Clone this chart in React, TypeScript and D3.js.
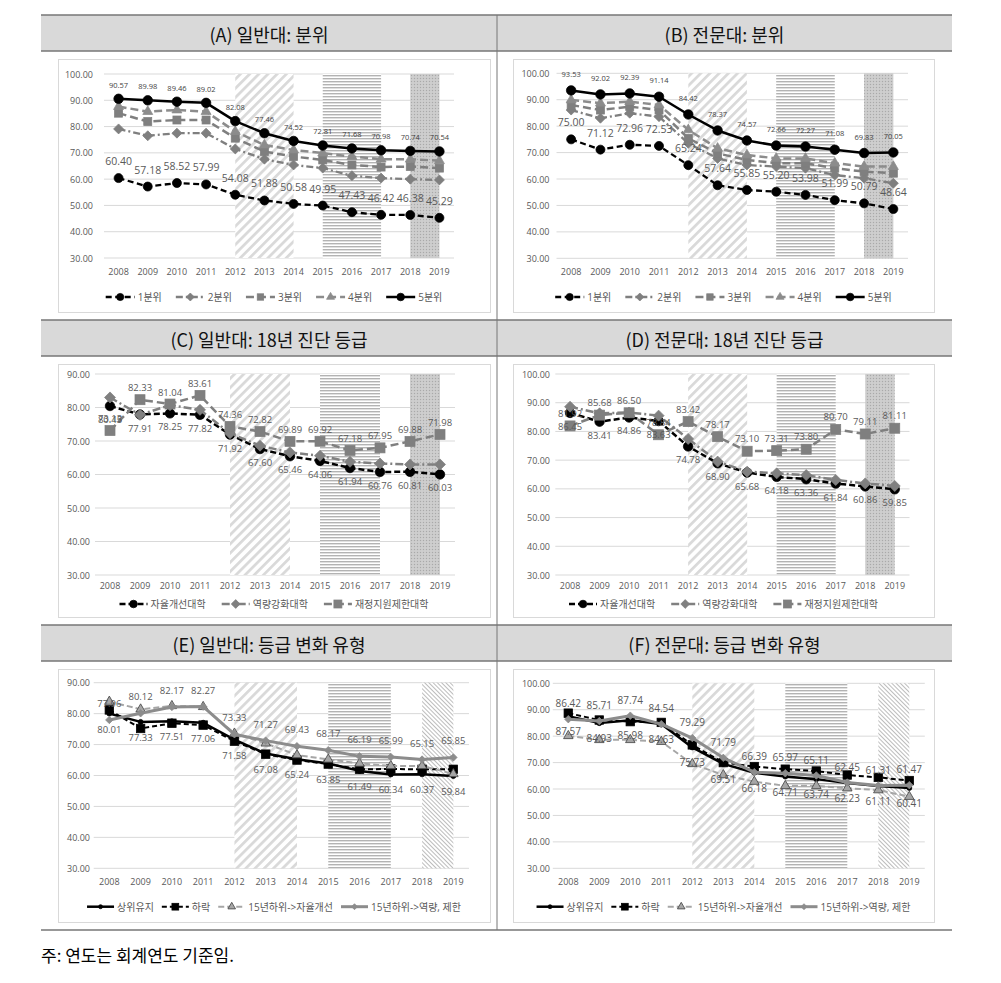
import React from 'react';
import * as d3 from 'd3';

const years = ['2008', '2009', '2010', '2011', '2012', '2013', '2014', '2015', '2016', '2017', '2018', '2019'];
const ticks100 = [30, 40, 50, 60, 70, 80, 90, 100];
const ticks90 = [30, 40, 50, 60, 70, 80, 90];

const titles = [
  '(A) 일반대: 분위',
  '(B) 전문대: 분위',
  '(C) 일반대: 18년 진단 등급',
  '(D) 전문대: 18년 진단 등급',
  '(E) 일반대: 등급 변화 유형',
  '(F) 전문대: 등급 변화 유형',
];
const note = '주: 연도는 회계연도 기준임.';

const quintileNames = ['1분위', '2분위', '3분위', '4분위', '5분위'];
const gradeNames = ['자율개선대학', '역량강화대학', '재정지원제한대학'];
const changeNames = ['상위유지', '하락', '15년하위->자율개선', '15년하위->역량, 제한'];

// shaded periods
const regionSpans: [string, string][] = [['2012', '2014'], ['2015', '2017'], ['2018', '2019']];

// (A) 일반대 분위
const aQ1 = [60.40, 57.18, 58.52, 57.99, 54.08, 51.88, 50.58, 49.95, 47.43, 46.42, 46.38, 45.29];
const aQ2 = [79.1, 76.5, 77.5, 77.5, 71.5, 67.6, 65.4, 64.2, 61.3, 60.4, 60.0, 59.7];
const aQ3 = [85.1, 81.9, 82.5, 82.5, 75.6, 70.5, 68.6, 67.3, 65.4, 64.6, 64.8, 64.2];
const aQ4 = [87.6, 85.7, 86.3, 85.7, 78.1, 73.0, 71.1, 69.9, 68.6, 67.6, 67.6, 67.0];
const aQ5 = [90.57, 89.98, 89.46, 89.02, 82.08, 77.46, 74.52, 72.81, 71.68, 70.98, 70.74, 70.54];

// (B) 전문대 분위
const bQ1 = [75.00, 71.12, 72.96, 72.53, 65.24, 57.64, 55.85, 55.20, 53.98, 51.99, 50.79, 48.64];
const bQ2 = [86.1, 83.0, 84.9, 83.6, 73.5, 67.8, 65.3, 64.7, 64.1, 61.5, 60.3, 58.4];
const bQ3 = [88.0, 86.1, 87.4, 86.1, 75.4, 69.7, 67.2, 66.0, 66.0, 64.1, 62.8, 62.2];
const bQ4 = [89.9, 88.7, 89.3, 88.0, 78.6, 71.6, 69.1, 67.8, 67.8, 66.0, 64.7, 64.7];
const bQ5 = [93.53, 92.02, 92.39, 91.14, 84.42, 78.37, 74.57, 72.66, 72.27, 71.08, 69.83, 70.05];

// (C) 일반대 18년 진단 등급
const cAuto = [80.45, 77.91, 78.25, 77.82, 71.92, 67.60, 65.46, 64.06, 61.94, 60.76, 60.81, 60.03];
const cCap = [83.0, 77.8, 80.7, 79.3, 72.3, 68.6, 66.6, 65.6, 63.8, 63.3, 63.0, 63.0];
const cLimit = [73.13, 82.33, 81.04, 83.61, 74.36, 72.82, 69.89, 69.92, 67.18, 67.95, 69.88, 71.98];

// (D) 전문대 18년 진단 등급
const dAuto = [86.45, 83.41, 84.86, 83.63, 74.78, 68.90, 65.68, 64.18, 63.36, 61.84, 60.86, 59.85];
const dCap = [88.6, 86.3, 86.6, 85.5, 77.4, 69.5, 66.0, 65.4, 64.8, 63.1, 61.9, 61.0];
const dLimit = [81.92, 85.68, 86.50, 78.84, 83.42, 78.17, 73.10, 73.31, 73.80, 80.70, 79.11, 81.11];

// (E) 일반대 등급 변화 유형
const eTop = [80.01, 77.33, 77.51, 77.06, 71.58, 67.08, 65.24, 63.85, 61.49, 60.34, 60.37, 59.84];
const eDrop = [81.2, 75.2, 76.9, 76.3, 71.1, 66.9, 65.0, 63.7, 62.0, 62.1, 62.0, 62.0];
const eLowAuto = [83.9, 81.4, 82.5, 82.2, 73.6, 70.4, 66.6, 65.2, 63.9, 63.1, 63.1, 60.5];
const eLowCap = [77.96, 80.12, 82.17, 82.27, 73.33, 71.27, 69.43, 68.17, 66.19, 65.99, 65.15, 65.85];

// (F) 전문대 등급 변화 유형
const fTop = [87.57, 84.93, 85.98, 84.63, 75.73, 69.51, 66.18, 64.71, 63.74, 62.23, 61.11, 60.41];
const fDrop = [88.7, 86.1, 85.5, 85.2, 76.7, 70.0, 68.5, 67.5, 66.8, 65.3, 64.4, 63.2];
const fLowAuto = [80.1, 78.6, 78.6, 77.9, 69.5, 65.3, 62.8, 61.2, 61.2, 60.3, 59.6, 57.1];
const fLowCap = [86.42, 85.71, 87.74, 84.54, 79.29, 71.79, 66.39, 65.97, 65.11, 62.45, 61.31, 61.47];

const FONT = "'Open Sans', 'Noto Sans CJK KR', sans-serif";
const KFONT = "'Noto Sans CJK KR', sans-serif";
const TXT = '#595959';

type Sty = {
  color: string; width: number; dash?: string; marker: string; msize: number;
  mfill: string; mstroke?: string; msw?: number;
};
type Lbl = { dy: number; size: number; color: string };
type Ser = { name: string; values: number[]; sty: Sty; label?: Lbl };
type PanelCfg = {
  box: { x: number; y: number; w: number; h: number };
  plot: { left: number; right: number; top: number; bottom: number };
  yMin: number; yMax: number; ticks: number[]; tickX: number; yearY: number;
  legendY: number; legendGap: number; sample: number; regions: string[];
  series: Ser[];
};

// styles
const sQ1: Sty = { color: '#000', width: 2.3, dash: '6,3.5', marker: 'circle', msize: 9, mfill: '#000' };
const sQ2: Sty = { color: '#7f7f7f', width: 2.3, dash: '7,3,2,3', marker: 'diamond', msize: 10, mfill: '#7f7f7f' };
const sQ3: Sty = { color: '#7f7f7f', width: 2.5, dash: '8,4', marker: 'square', msize: 8, mfill: '#7f7f7f' };
const sQ4: Sty = { color: '#8c8c8c', width: 2.5, dash: '8,4', marker: 'triangle', msize: 10, mfill: '#8c8c8c' };
const sQ5: Sty = { color: '#000', width: 2.5, marker: 'circle', msize: 9.5, mfill: '#000' };

const sAuto: Sty = { color: '#000', width: 2.5, dash: '6,3', marker: 'circle', msize: 9.5, mfill: '#000' };
const sCap: Sty = { color: '#808080', width: 2.5, dash: '8,3,2,3', marker: 'diamond', msize: 11, mfill: '#808080' };
const sLimit: Sty = { color: '#7f7f7f', width: 2.5, dash: '8,4', marker: 'square', msize: 10, mfill: '#7f7f7f' };

const sTop: Sty = { color: '#000', width: 2.5, marker: 'circle', msize: 5, mfill: '#000' };
const sDrop: Sty = { color: '#000', width: 2, dash: '5,3', marker: 'square', msize: 8.5, mfill: '#000' };
const sLowAuto: Sty = { color: '#a6a6a6', width: 2, dash: '6,3', marker: 'triangle', msize: 9.5, mfill: '#a6a6a6', mstroke: '#404040', msw: 0.8 };
const sLowCap: Sty = { color: '#8c8c8c', width: 3, marker: 'diamond', msize: 7.5, mfill: '#8c8c8c' };

const regAF = ['url(#pDiag)', 'url(#pHoriz)', 'url(#pDots)'];
const regEF = ['url(#pDiag)', 'url(#pHoriz)', 'url(#pLight)'];

const panels: PanelCfg[] = [
  {
    box: { x: 58, y: 59, w: 432, h: 253 }, plot: { left: 104, right: 454, top: 74, bottom: 258 },
    yMin: 30, yMax: 100, ticks: ticks100, tickX: 93, yearY: 271, legendY: 297, legendGap: 14, sample: 29, regions: regAF,
    series: [
      { name: quintileNames[0], values: aQ1, sty: sQ1, label: { dy: -17, size: 10.5, color: TXT } },
      { name: quintileNames[1], values: aQ2, sty: sQ2 },
      { name: quintileNames[2], values: aQ3, sty: sQ3 },
      { name: quintileNames[3], values: aQ4, sty: sQ4 },
      { name: quintileNames[4], values: aQ5, sty: sQ5, label: { dy: -14, size: 7.5, color: '#3f3f3f' } },
    ],
  },
  {
    box: { x: 513, y: 59, w: 421, h: 253 }, plot: { left: 556.5, right: 908, top: 73.3, bottom: 258.3 },
    yMin: 30, yMax: 100, ticks: ticks100, tickX: 549.5, yearY: 271, legendY: 297, legendGap: 14, sample: 29, regions: regAF,
    series: [
      { name: quintileNames[0], values: bQ1, sty: sQ1, label: { dy: -17, size: 10.5, color: TXT } },
      { name: quintileNames[1], values: bQ2, sty: sQ2 },
      { name: quintileNames[2], values: bQ3, sty: sQ3 },
      { name: quintileNames[3], values: bQ4, sty: sQ4 },
      { name: quintileNames[4], values: bQ5, sty: sQ5, label: { dy: -16.5, size: 7.5, color: '#3f3f3f' } },
    ],
  },
  {
    box: { x: 58, y: 364, w: 432, h: 253 }, plot: { left: 95, right: 455, top: 374, bottom: 575 },
    yMin: 30, yMax: 90, ticks: ticks90, tickX: 90, yearY: 585, legendY: 604, legendGap: 16, sample: 28, regions: regAF,
    series: [
      { name: gradeNames[0], values: cAuto, sty: sAuto, label: { dy: 13.5, size: 9.5, color: TXT } },
      { name: gradeNames[1], values: cCap, sty: sCap },
      { name: gradeNames[2], values: cLimit, sty: sLimit, label: { dy: -12, size: 9.5, color: TXT } },
    ],
  },
  {
    box: { x: 513, y: 364, w: 421, h: 253 }, plot: { left: 555.3, right: 909.5, top: 374, bottom: 575 },
    yMin: 30, yMax: 100, ticks: ticks100, tickX: 550, yearY: 585, legendY: 604, legendGap: 16, sample: 28, regions: regAF,
    series: [
      { name: gradeNames[0], values: dAuto, sty: sAuto, label: { dy: 13.5, size: 9.5, color: TXT } },
      { name: gradeNames[1], values: dCap, sty: sCap },
      { name: gradeNames[2], values: dLimit, sty: sLimit, label: { dy: -12.5, size: 9.5, color: TXT } },
    ],
  },
  {
    box: { x: 58, y: 669, w: 432, h: 253 }, plot: { left: 93.7, right: 469, top: 682.7, bottom: 868.3 },
    yMin: 30, yMax: 90, ticks: ticks90, tickX: 90, yearY: 881.7, legendY: 906.7, legendGap: 8, sample: 27, regions: regEF,
    series: [
      { name: changeNames[0], values: eTop, sty: sTop, label: { dy: 15.5, size: 9.5, color: TXT } },
      { name: changeNames[1], values: eDrop, sty: sDrop },
      { name: changeNames[2], values: eLowAuto, sty: sLowAuto },
      { name: changeNames[3], values: eLowCap, sty: sLowCap, label: { dy: -16.5, size: 9.5, color: TXT } },
    ],
  },
  {
    box: { x: 513, y: 669, w: 421, h: 253 }, plot: { left: 552.8, right: 924.8, top: 683.3, bottom: 868.3 },
    yMin: 30, yMax: 100, ticks: ticks100, tickX: 550, yearY: 881.7, legendY: 906.7, legendGap: 8, sample: 27, regions: regEF,
    series: [
      { name: changeNames[0], values: fTop, sty: sTop, label: { dy: 15, size: 10, color: TXT } },
      { name: changeNames[1], values: fDrop, sty: sDrop },
      { name: changeNames[2], values: fLowAuto, sty: sLowAuto },
      { name: changeNames[3], values: fLowCap, sty: sLowCap, label: { dy: -16, size: 10, color: TXT } },
    ],
  },
];

let measureCtx: CanvasRenderingContext2D | null = null;
function textWidth(s: string, size: number): number {
  if (!measureCtx) {
    const c = document.createElement('canvas');
    measureCtx = c.getContext('2d');
  }
  if (!measureCtx) return s.length * size * 0.8;
  measureCtx.font = `${size}px ${FONT}`;
  return measureCtx.measureText(s).width;
}

function Marker({ sty, cx, cy, scale = 1 }: { sty: Sty; cx: number; cy: number; scale?: number }) {
  const s = sty.msize * scale;
  const stroke = sty.mstroke || sty.mfill;
  const sw = sty.msw ?? 0.75;
  if (sty.marker === 'circle') return <circle cx={cx} cy={cy} r={s / 2} fill={sty.mfill} stroke={stroke} strokeWidth={sw} />;
  if (sty.marker === 'square') return <rect x={cx - s / 2} y={cy - s / 2} width={s} height={s} fill={sty.mfill} stroke={stroke} strokeWidth={sw} />;
  if (sty.marker === 'diamond') {
    const h = s / 2;
    return <path d={`M${cx},${cy - h}L${cx + h},${cy}L${cx},${cy + h}L${cx - h},${cy}Z`} fill={sty.mfill} stroke={stroke} strokeWidth={sw} />;
  }
  if (sty.marker === 'triangle') {
    const h = s * 0.866;
    return <path d={`M${cx},${cy - (h * 2) / 3}L${cx + s / 2},${cy + h / 3}L${cx - s / 2},${cy + h / 3}Z`} fill={sty.mfill} stroke={stroke} strokeWidth={sw} />;
  }
  return null;
}

function Panel({ cfg }: { cfg: PanelCfg }) {
  const { box, plot } = cfg;
  const x = d3.scalePoint<string>().domain(years).range([plot.left, plot.right]).padding(0.5);
  const y = d3.scaleLinear().domain([cfg.yMin, cfg.yMax]).range([plot.bottom, plot.top]);
  const line = d3.line<number>().x((_, i) => x(years[i]) as number).y((d) => y(d));

  const legendSize = 10;
  const items = cfg.series.map((s) => ({ s, tw: textWidth(s.name, legendSize) }));
  const total = items.reduce((a, it) => a + cfg.sample + 3 + it.tw, 0) + cfg.legendGap * (items.length - 1);
  let lx = box.x + box.w / 2 - total / 2;
  const legendEls = items.map((it, i) => {
    const x0 = lx;
    lx += cfg.sample + 3 + it.tw + cfg.legendGap;
    const st = it.s.sty;
    return (
      <g key={'lg' + i}>
        <line x1={x0} x2={x0 + cfg.sample} y1={cfg.legendY} y2={cfg.legendY} stroke={st.color} strokeWidth={st.width} strokeDasharray={st.dash} />
        <Marker sty={st} cx={x0 + cfg.sample / 2} cy={cfg.legendY} scale={0.8} />
        <text x={x0 + cfg.sample + 3} y={cfg.legendY} dominantBaseline="central" fontSize={legendSize} fill={TXT} fontFamily={FONT}>
          {it.s.name}
        </text>
      </g>
    );
  });

  return (
    <g>
      <rect x={box.x + 0.5} y={box.y + 0.5} width={box.w} height={box.h} fill="#fff" stroke="#d9d9d9" strokeWidth={1} />
      {cfg.ticks.map((t) => (
        <g key={'t' + t}>
          <line x1={plot.left} x2={plot.right} y1={y(t)} y2={y(t)} stroke="#d9d9d9" strokeWidth={1} />
          <text x={cfg.tickX} y={y(t)} textAnchor="end" dominantBaseline="central" fontSize={9} fill={TXT} fontFamily={FONT}>
            {t.toFixed(2)}
          </text>
        </g>
      ))}
      {regionSpans.map(([a, b], i) => (
        <rect key={'r' + i} x={x(a) as number} y={plot.top} width={(x(b) as number) - (x(a) as number)} height={plot.bottom - plot.top} fill={cfg.regions[i]} />
      ))}
      {years.map((yr) => (
        <text key={'y' + yr} x={x(yr) as number} y={cfg.yearY} textAnchor="middle" dominantBaseline="central" fontSize={9} fill={TXT} fontFamily={FONT}>
          {yr}
        </text>
      ))}
      {cfg.series.map((s, si) => (
        <g key={'s' + si}>
          <path d={line(s.values) || ''} fill="none" stroke={s.sty.color} strokeWidth={s.sty.width} strokeDasharray={s.sty.dash} strokeLinejoin="round" />
          {s.values.map((v, i) => (
            <Marker key={i} sty={s.sty} cx={x(years[i]) as number} cy={y(v)} />
          ))}
        </g>
      ))}
      {cfg.series.map((s, si) =>
        s.label ? (
          <g key={'l' + si}>
            {s.values.map((v, i) => (
              <text key={i} x={x(years[i]) as number} y={y(v) + (s.label as Lbl).dy} textAnchor="middle" dominantBaseline="central"
                fontSize={(s.label as Lbl).size} fill={(s.label as Lbl).color} fontFamily={FONT}>
                {v.toFixed(2)}
              </text>
            ))}
          </g>
        ) : null
      )}
      {legendEls}
    </g>
  );
}

export default function App() {
  const rowTops = [15, 320, 625];
  const L = 41, R = 952, MID = 497, TH = 36, BOTTOM = 930;
  return (
    <svg width={1001} height={983} style={{ position: 'absolute', left: 0, top: 0, background: '#fff' }}>
      <defs>
        <pattern id="pDiag" patternUnits="userSpaceOnUse" width="6.5" height="6.5" patternTransform="rotate(45)">
          <rect width="6.5" height="6.5" fill="#fff" />
          <rect width="2.7" height="6.5" fill="#d9d9d9" />
        </pattern>
        <pattern id="pHoriz" patternUnits="userSpaceOnUse" width="4" height="3">
          <rect width="4" height="3" fill="#fff" />
          <rect width="4" height="1.4" fill="#b3b3b3" />
        </pattern>
        <pattern id="pDots" patternUnits="userSpaceOnUse" width="3" height="3">
          <rect width="3" height="3" fill="#cacaca" />
          <rect width="1" height="1" fill="#a9a9a9" />
          <rect x="1.5" y="1.5" width="1" height="1" fill="#dcdcdc" />
        </pattern>
        <pattern id="pLight" patternUnits="userSpaceOnUse" width="3" height="3" patternTransform="rotate(-45)">
          <rect width="3" height="3" fill="#fff" />
          <rect width="0.9" height="3" fill="#b5b5b5" />
        </pattern>
      </defs>
      {rowTops.map((t, i) => (
        <g key={'row' + i}>
          <rect x={L} y={t} width={R - L} height={TH} fill="#d9d9d9" />
          <line x1={L} x2={R} y1={t} y2={t} stroke="#767676" strokeWidth={1.3} />
          <line x1={L} x2={R} y1={t + TH} y2={t + TH} stroke="#767676" strokeWidth={1.3} />
          <text x={(L + MID) / 2} y={t + TH / 2 + 0.5} textAnchor="middle" dominantBaseline="central" fontSize={18} fill="#111" fontFamily={KFONT}>
            {titles[i * 2]}
          </text>
          <text x={(MID + R) / 2} y={t + TH / 2 + 0.5} textAnchor="middle" dominantBaseline="central" fontSize={18} fill="#111" fontFamily={KFONT}>
            {titles[i * 2 + 1]}
          </text>
        </g>
      ))}
      <line x1={MID} x2={MID} y1={15} y2={BOTTOM} stroke="#767676" strokeWidth={1} />
      <line x1={L} x2={R} y1={BOTTOM} y2={BOTTOM} stroke="#767676" strokeWidth={1.3} />
      {panels.map((p, i) => (
        <Panel key={i} cfg={p} />
      ))}
      <text x={L} y={954} dominantBaseline="central" fontSize={17} fill="#000" fontFamily={KFONT}>
        {note}
      </text>
    </svg>
  );
}
